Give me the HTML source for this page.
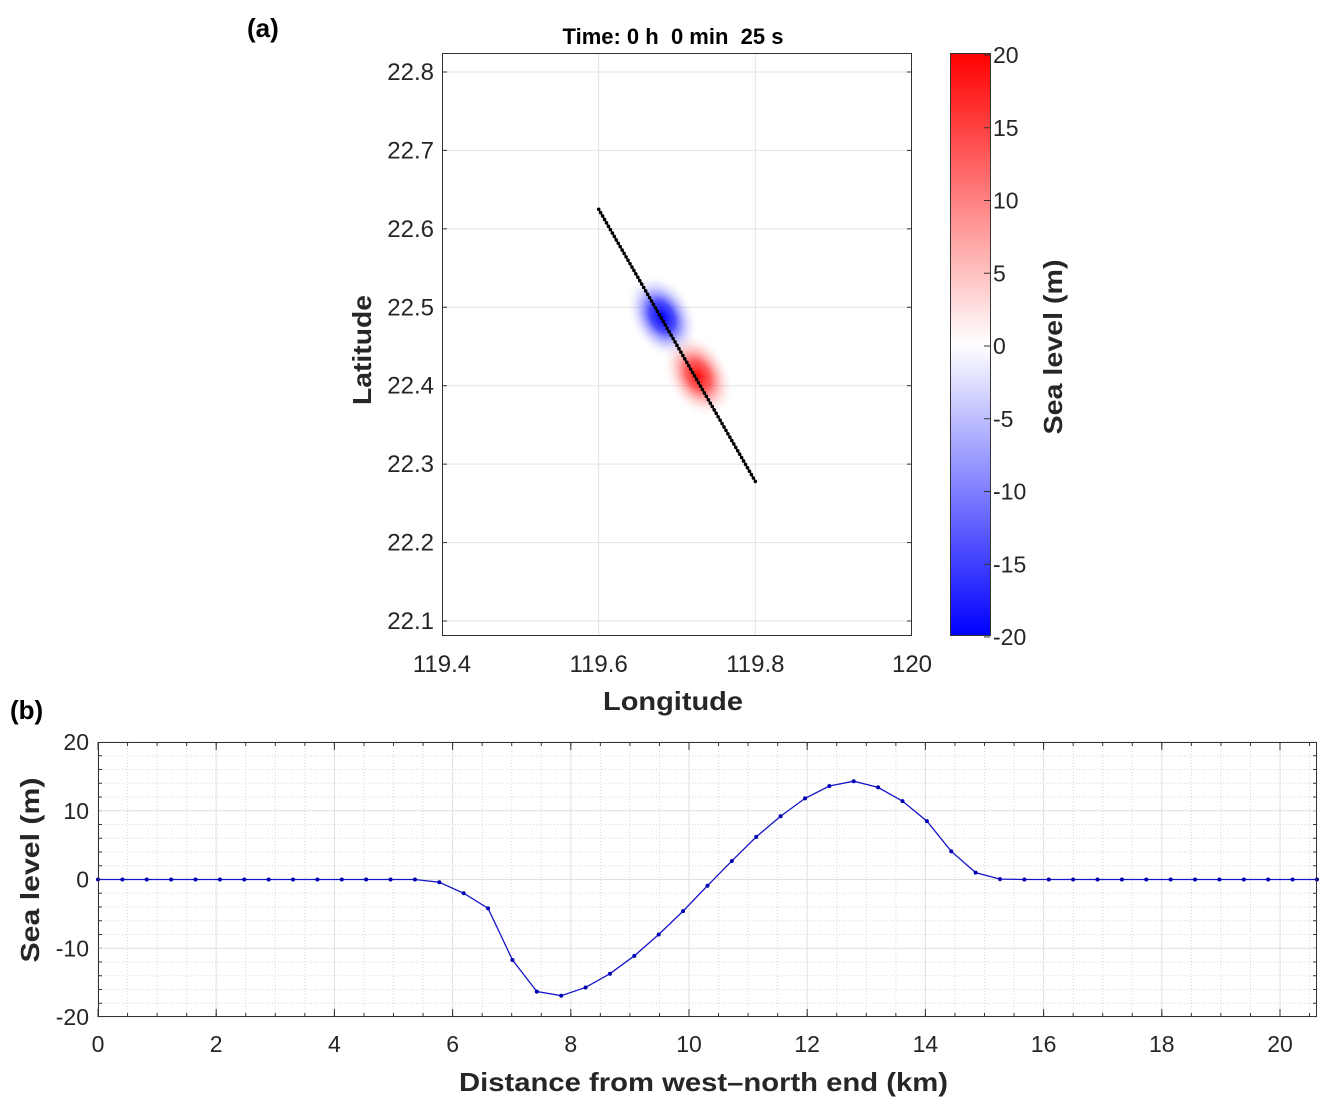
<!DOCTYPE html>
<html><head><meta charset="utf-8"><style>
body{margin:0;background:#fff;}
svg text{font-family:"Liberation Sans",Arial,sans-serif;}
</style></head><body>
<svg id="fig" width="1342" height="1112" viewBox="0 0 1342 1112" xmlns="http://www.w3.org/2000/svg">
<defs>
<radialGradient id="gb"><stop offset="0" stop-color="#0000ff" stop-opacity="1"/><stop offset="0.35" stop-color="#2020ff" stop-opacity="0.8"/><stop offset="0.7" stop-color="#8080ff" stop-opacity="0.3"/><stop offset="1" stop-color="#ffffff" stop-opacity="0"/></radialGradient>
<radialGradient id="gr"><stop offset="0" stop-color="#ff0000" stop-opacity="0.95"/><stop offset="0.35" stop-color="#ff2020" stop-opacity="0.7"/><stop offset="0.7" stop-color="#ff8080" stop-opacity="0.25"/><stop offset="1" stop-color="#ffffff" stop-opacity="0"/></radialGradient>
<linearGradient id="cb" x1="0" y1="0" x2="0" y2="1"><stop offset="0" stop-color="#ff0000"/><stop offset="0.5" stop-color="#ffffff"/><stop offset="1" stop-color="#0000ff"/></linearGradient>
</defs>
<g id="pa"></g><g id="pb"></g>
</svg>
<script>
const NS="http://www.w3.org/2000/svg";
function mk(p,t,a,txt){const e=document.createElementNS(NS,t);for(const k in a)e.setAttribute(k,a[k]);if(txt!==undefined)e.textContent=txt;p.appendChild(e);return e;}
// ---- Panel (a) data
const lonTicks=[119.4,119.6,119.8,120];
const latTicks=[22.1,22.2,22.3,22.4,22.5,22.6,22.7,22.8];
const cbTicks=[20,15,10,5,0,-5,-10,-15,-20];
const transectStart=[119.6,22.625];
const transectEnd=[119.8,22.278];
const blobLon=[119.681,119.727];
const blobLat=[22.488,22.413];
const blobAmp=[-17,14];
// ---- Panel (b) data
const dist=[];for(let i=0;i<=50;i++)dist.push(i*0.4125);
const level=[0,0,0,0,0,0,0,0,0,0,0,0,0,0,-0.4,-2.0,-4.2,-11.7,-16.3,-16.9,-15.7,-13.7,-11.1,-8.0,-4.6,-0.9,2.7,6.2,9.2,11.8,13.6,14.3,13.4,11.4,8.5,4.1,1.0,0.05,0,0,0,0,0,0,0,0,0,0,0,0,0];
const xTicksB=[0,2,4,6,8,10,12,14,16,18,20];
const yTicksB=[-20,-10,0,10,20];

const pa=document.getElementById('pa');
const X=v=>442+(v-119.4)/0.6*470, Y=v=>72+(22.8-v)/0.7*549;
mk(pa,'rect',{x:442,y:53,width:470,height:583,fill:'#fff'});
lonTicks.forEach(t=>{if(t>119.4&&t<120){const l=mk(pa,'line',{x1:X(t),x2:X(t),y1:53,y2:636,stroke:'#e3e3e3'});}
 const tx=mk(pa,'text',{x:X(t),y:672,'font-size':24,'text-anchor':'middle',fill:'#262626'},String(t));});
latTicks.forEach(t=>{mk(pa,'line',{x1:442,x2:912,y1:Y(t),y2:Y(t),stroke:'#e3e3e3'});
 mk(pa,'line',{x1:442,x2:447,y1:Y(t),y2:Y(t),stroke:'#333'});mk(pa,'line',{x1:907,x2:912,y1:Y(t),y2:Y(t),stroke:'#333'});
 const tx=mk(pa,'text',{x:434,y:Y(t)+8,'font-size':24,'text-anchor':'end',fill:'#262626'},t.toFixed(1));});
const ang=Math.atan2(Y(transectEnd[1])-Y(transectStart[1]),X(transectEnd[0])-X(transectStart[0]))*180/Math.PI;
blobLon.forEach((lo,i)=>{const g=mk(pa,'ellipse',{cx:0,cy:0,rx:46,ry:32,fill:blobAmp[i]<0?'url(#gb)':'url(#gr)',transform:`translate(${X(lo)},${Y(blobLat[i])}) rotate(${ang})`});
 });
const tl=mk(pa,'line',{x1:X(transectStart[0]),y1:Y(transectStart[1]),x2:X(transectEnd[0]),y2:Y(transectEnd[1]),stroke:'#000','stroke-width':1.5});

for(let i=0;i<=80;i++){const f=i/80;mk(pa,'circle',{cx:X(transectStart[0]+f*(transectEnd[0]-transectStart[0])),cy:Y(transectStart[1]+f*(transectEnd[1]-transectStart[1])),r:1.8,fill:'#000'});}
const ba=mk(pa,'rect',{x:442.5,y:53.5,width:469,height:582,fill:'none',stroke:'#333'});
let t=mk(pa,'text',{x:673,y:44,'font-size':22,'font-weight':'bold','text-anchor':'middle',fill:'#000',style:'white-space:pre'},'Time: 0 h  0 min  25 s');
t=mk(pa,'text',{x:603,y:710,'font-size':26,'font-weight':'bold',fill:'#262626',textLength:140,lengthAdjust:'spacingAndGlyphs'},'Longitude');
t=mk(pa,'text',{x:0,y:0,'font-size':26,'font-weight':'bold','text-anchor':'middle',fill:'#262626',transform:'translate(371,350) rotate(-90)',textLength:110,lengthAdjust:'spacingAndGlyphs'},'Latitude');
t=mk(pa,'text',{x:247,y:37,'font-size':26,'font-weight':'bold',fill:'#000'},'(a)');
const cbr=mk(pa,'rect',{x:950.5,y:53.5,width:40,height:582,fill:'url(#cb)',stroke:'#333'});
const C=v=>55+(20-v)/40*582;
cbTicks.forEach(v=>{mk(pa,'line',{x1:984,x2:990,y1:C(v),y2:C(v),stroke:'#333'});
 const tx=mk(pa,'text',{x:993,y:C(v)+8,'font-size':23,fill:'#262626'},String(v));});
t=mk(pa,'text',{x:0,y:0,'font-size':26,'font-weight':'bold','text-anchor':'middle',fill:'#262626',transform:'translate(1062,347) rotate(-90)',textLength:175,lengthAdjust:'spacingAndGlyphs'},'Sea level (m)');

// ---- Panel (b)
const pb=document.getElementById('pb');
const L=98,R=1317,T=742,B=1017;
const XB=v=>L+v/20*(1280-L), YB=v=>T+(20-v)/40*(B-T);
for(let v=0;v<=20.6;v+=0.5){if(Math.abs(v-Math.round(v/2)*2)>0.01)mk(pb,'line',{x1:XB(v),x2:XB(v),y1:T,y2:B,stroke:'#d8d8d8','stroke-dasharray':'1,2'});}
for(let v=-20;v<=20;v+=2){if(v%10!==0)mk(pb,'line',{x1:L,x2:R,y1:YB(v),y2:YB(v),stroke:'#d8d8d8','stroke-dasharray':'1,2'});}
xTicksB.forEach(v=>{mk(pb,'line',{x1:XB(v),x2:XB(v),y1:T,y2:B,stroke:'#e0e0e0'});
 mk(pb,'line',{x1:XB(v),x2:XB(v),y1:B,y2:B-8,stroke:'#333'});mk(pb,'line',{x1:XB(v),x2:XB(v),y1:T,y2:T+8,stroke:'#333'});
 const tx=mk(pb,'text',{x:XB(v),y:1052,'font-size':23,'text-anchor':'middle',fill:'#262626'},String(v));});
for(let v=0;v<=20.6;v+=0.5){mk(pb,'line',{x1:XB(v),x2:XB(v),y1:B,y2:B-4,stroke:'#333'});mk(pb,'line',{x1:XB(v),x2:XB(v),y1:T,y2:T+4,stroke:'#333'});}
for(let v=-20;v<=20;v+=2){mk(pb,'line',{x1:R-4,x2:R,y1:YB(v),y2:YB(v),stroke:'#333'});mk(pb,'line',{x1:L,x2:L+4,y1:YB(v),y2:YB(v),stroke:'#333'});}
yTicksB.forEach(v=>{mk(pb,'line',{x1:L,x2:R,y1:YB(v),y2:YB(v),stroke:'#e0e0e0'});
 const tx=mk(pb,'text',{x:89,y:YB(v)+8,'font-size':23,'text-anchor':'end',fill:'#262626'},String(v));});
const pts=dist.map((d,i)=>XB(d)+','+YB(level[i])).join(' ');
const pl=mk(pb,'polyline',{points:pts,fill:'none',stroke:'#1515c8','stroke-width':1.3});
dist.forEach((d,i)=>{const c=mk(pb,'circle',{cx:XB(d),cy:YB(level[i]),r:2,fill:'#0000b0'});});
const bb=mk(pb,'rect',{x:L+.5,y:T+.5,width:R-L-1,height:B-T-1,fill:'none',stroke:'#333'});
t=mk(pb,'text',{x:459,y:1091,'font-size':26,'font-weight':'bold',fill:'#262626',textLength:489,lengthAdjust:'spacingAndGlyphs'},'Distance from west\u2013north end (km)');
t=mk(pb,'text',{x:0,y:0,'font-size':26,'font-weight':'bold','text-anchor':'middle',fill:'#262626',transform:'translate(39,870) rotate(-90)',textLength:185,lengthAdjust:'spacingAndGlyphs'},'Sea level (m)');
t=mk(pb,'text',{x:10,y:719,'font-size':26,'font-weight':'bold',fill:'#000'},'(b)');
</script>
</body></html>
